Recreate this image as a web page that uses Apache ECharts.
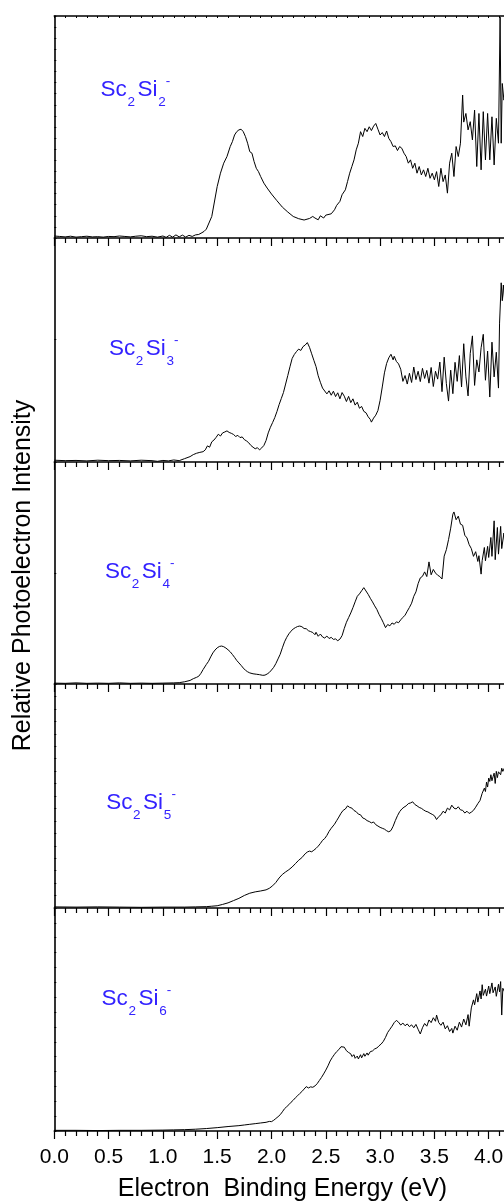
<!DOCTYPE html>
<html>
<head>
<meta charset="utf-8">
<title>Sc2Si(n)- photoelectron spectra</title>
<script src="https://cdn.jsdelivr.net/npm/echarts@6/dist/echarts.min.js"></script>
<style>
  html, body { margin: 0; padding: 0; background: #fff; }
  #chart { width: 504px; height: 1203px; }
</style>
</head>
<body>
<div id="chart"></div>
<script>
// spectra: [binding energy (eV), intensity as % of the panel height]
const spec2 = [[0,0.9],[0.05,0.7],[0.1,0.5],[0.15,0.8],[0.2,0.4],[0.25,0.6],[0.3,0.8],[0.35,0.5],[0.4,0.6],[0.45,0.4],[0.5,0.7],[0.55,0.6],[0.6,0.9],[0.65,0.7],[0.7,0.5],[0.75,0.8],[0.8,1.0],[0.85,0.6],[0.9,0.8],[0.95,0.4],[1.0,0.9],[1.03,0.3],[1.06,1.2],[1.09,0.4],[1.12,1.4],[1.15,0.5],[1.18,1.3],[1.21,0.4],[1.24,1.2],[1.27,0.7],[1.3,1.4],[1.33,1.6],[1.36,2.4],[1.38,3.0],
  [1.40,4.0],[1.45,9.7],[1.50,23.2],[1.53,29.2],[1.56,33.7],[1.59,36.7],[1.62,41.2],[1.64,43.4],[1.66,46.4],[1.68,47.9],[1.70,48.7],[1.72,49.0],[1.74,47.9],[1.76,45.7],[1.78,42.7],[1.80,38.9],[1.82,38.2],[1.84,34.4],[1.86,31.4],[1.88,29.9],[1.90,27.7],[1.93,24.7],[1.96,22.5],[2.00,19.8],[2.05,16.8],[2.10,13.9],[2.15,11.7],[2.20,9.7],[2.25,8.7],[2.30,8.1],[2.35,8.8],[2.38,9.7],[2.40,9.0],[2.43,8.2],[2.45,10.0],[2.48,9.0],[2.50,10.3],[2.55,10.9],[2.58,12.7],[2.60,14.7],[2.63,16.5],[2.65,19.5],[2.68,21.7],[2.70,25.4],[2.72,29.2],[2.74,32.2],[2.76,35.2],[2.78,39.7],[2.80,42.7],[2.82,47.9],[2.84,45.7],[2.86,49.4],[2.88,47.9],[2.90,50.1],[2.92,48.4],[2.94,50.4],[2.96,51.6],[2.98,49.0],[3.00,46.4],[3.02,47.5],[3.04,45.7],[3.06,48.2],[3.08,44.9],[3.10,43.4],[3.12,41.2],[3.14,41.5],[3.16,39.4],[3.18,41.2],[3.20,40.4],[3.22,38.2],[3.24,36.7],[3.26,33.7],[3.28,35.2],[3.30,31.4],[3.32,33.7],[3.34,29.2],[3.36,32.2],[3.38,28.4],[3.40,30.7],[3.42,27.7],[3.44,31.4],[3.46,26.9],[3.48,29.2],[3.50,26.2],[3.52,29.9],[3.54,23.2],[3.56,31.4],[3.58,25.4],[3.60,28.4],[3.62,20.2],[3.64,33.7],[3.66,38.2],[3.68,27.7],[3.70,41.2],[3.72,36.7],[3.74,42.7],[3.76,64.4],[3.77,52.2],[3.79,56.1],[3.81,48.7],[3.83,52.4],[3.85,44.2],[3.87,57.6],[3.89,32.2],[3.91,56.1],[3.93,30.7],[3.95,56.9],[3.97,35.2],[3.99,56.1],[4.01,35.2],[4.03,54.6],[4.05,32.9],[4.07,53.9],[4.09,42.7],[4.105,99.5],[4.115,42.7],[4.125,69.6],[4.14,62.1],[4.16,66.0]];

const spec3 = [[0,0.8],[0.1,0.6],[0.2,0.7],[0.3,0.5],[0.4,0.8],[0.5,0.6],[0.6,0.7],[0.7,0.5],[0.8,0.8],[0.9,0.6],[0.95,0.3],[1.0,0.7],[1.05,0.5],[1.1,0.9],[1.15,0.6],[1.2,1.5],[1.25,2.4],[1.28,3.3],[1.31,3.9],[1.34,4.3],[1.37,4.6],[1.39,5.4],[1.41,7.2],[1.43,6.6],[1.45,9.0],[1.47,9.8],[1.49,11.0],[1.51,12.4],[1.53,11.6],[1.55,13.0],[1.57,13.4],[1.59,13.9],[1.61,13.2],[1.63,12.8],[1.65,12.3],[1.67,11.4],[1.69,11.9],[1.71,10.9],[1.73,11.2],[1.75,10.0],[1.77,9.4],[1.79,8.6],[1.81,7.4],[1.83,6.6],[1.85,5.9],[1.87,6.4],[1.89,5.4],[1.91,6.3],[1.93,7.4],[1.95,9.6],[1.97,13.0],[1.99,15.5],[2.01,17.6],[2.03,19.8],[2.05,22.5],[2.07,25.6],[2.09,28.3],[2.11,31.0],[2.13,34.8],[2.15,38.6],[2.17,42.5],[2.19,46.2],[2.21,48.0],[2.23,49.3],[2.25,50.4],[2.27,49.8],[2.29,51.5],[2.31,52.2],[2.33,53.3],[2.35,51.2],[2.37,48.3],[2.39,45.4],[2.41,42.6],[2.43,38.5],[2.45,35.6],[2.47,33.0],[2.49,31.7],[2.51,30.4],[2.53,31.8],[2.55,29.8],[2.57,31.6],[2.59,29.2],[2.61,30.9],[2.63,28.2],[2.65,31.0],[2.67,29.4],[2.69,27.0],[2.71,29.3],[2.73,26.5],[2.75,28.2],[2.77,25.4],[2.79,26.7],[2.81,24.0],[2.83,24.8],[2.85,22.6],[2.87,22.0],[2.89,20.2],[2.91,19.0],[2.92,17.8],[2.94,19.6],[2.96,20.9],[2.98,23.0],[3.00,27.5],[3.02,33.5],[3.04,39.8],[3.06,44.0],[3.08,46.5],[3.10,48.1],[3.12,45.6],[3.13,47.2],[3.15,44.9],[3.17,43.8],[3.19,41.4],[3.21,36.0],[3.23,38.6],[3.25,34.8],[3.27,39.6],[3.29,35.5],[3.31,42.4],[3.33,36.8],[3.35,40.5],[3.37,35.9],[3.39,41.8],[3.41,37.3],[3.43,40.9],[3.45,35.2],[3.47,42.2],[3.49,33.7],[3.51,40.5],[3.53,37.0],[3.55,44.6],[3.57,31.4],[3.59,46.8],[3.61,35.0],[3.63,27.2],[3.65,41.0],[3.67,30.5],[3.69,44.5],[3.71,36.0],[3.73,47.5],[3.75,33.5],[3.77,52.8],[3.79,38.0],[3.81,29.5],[3.83,48.5],[3.85,56.3],[3.87,34.2],[3.89,45.6],[3.91,40.2],[3.93,51.0],[3.95,57.0],[3.97,36.5],[3.99,49.5],[4.01,29.0],[4.03,53.5],[4.05,38.0],[4.07,49.0],[4.09,33.0],[4.10,62.0],[4.115,80.0],[4.125,72.0],[4.135,79.0],[4.15,70.0]];

const spec4 = [[0,0.4],[0.1,0.3],[0.2,0.5],[0.3,0.3],[0.4,0.4],[0.5,0.3],[0.6,0.5],[0.7,0.3],[0.8,0.4],[0.9,0.3],[1.0,0.4],[1.1,0.5],[1.15,0.6],[1.2,1.0],[1.25,1.6],[1.28,2.4],[1.31,3.0],[1.33,3.5],[1.35,4.8],[1.37,6.5],[1.40,8.8],[1.42,10.2],[1.44,12.2],[1.46,14.0],[1.48,15.3],[1.50,16.3],[1.52,16.9],[1.54,17.1],[1.56,16.8],[1.58,16.2],[1.60,15.4],[1.62,14.5],[1.64,13.3],[1.66,12.0],[1.68,10.6],[1.70,9.5],[1.72,8.4],[1.74,7.2],[1.76,6.2],[1.78,5.5],[1.80,5.0],[1.83,4.6],[1.86,4.4],[1.89,4.2],[1.92,3.9],[1.94,4.0],[1.96,4.5],[1.98,5.2],[2.00,6.3],[2.02,7.5],[2.04,9.2],[2.06,11.3],[2.08,13.4],[2.10,16.3],[2.12,19.0],[2.14,21.0],[2.16,22.6],[2.18,23.8],[2.20,24.8],[2.22,25.4],[2.24,25.9],[2.26,26.1],[2.28,25.8],[2.30,25.0],[2.32,24.9],[2.34,24.0],[2.36,23.6],[2.38,23.2],[2.40,22.2],[2.41,23.3],[2.43,21.5],[2.45,22.5],[2.47,21.2],[2.49,20.7],[2.51,21.6],[2.53,20.5],[2.55,21.0],[2.57,20.1],[2.59,20.3],[2.61,19.5],[2.63,20.2],[2.65,21.8],[2.67,25.0],[2.69,27.8],[2.71,29.9],[2.73,32.0],[2.75,34.4],[2.77,37.0],[2.79,39.5],[2.81,40.6],[2.83,42.0],[2.85,43.4],[2.87,41.9],[2.89,40.4],[2.91,38.6],[2.93,37.0],[2.95,35.2],[2.97,33.6],[2.99,31.4],[3.01,29.6],[3.03,27.6],[3.05,25.4],[3.07,26.8],[3.09,26.2],[3.11,27.5],[3.13,26.9],[3.15,28.0],[3.17,27.6],[3.19,28.9],[3.21,30.0],[3.23,31.0],[3.25,32.8],[3.27,34.5],[3.29,36.4],[3.31,39.5],[3.33,41.5],[3.35,45.2],[3.37,47.8],[3.39,48.5],[3.41,50.5],[3.43,48.4],[3.45,55.0],[3.47,49.2],[3.49,51.6],[3.51,50.0],[3.53,49.0],[3.55,48.4],[3.57,47.3],[3.59,57.6],[3.61,60.5],[3.63,65.0],[3.65,70.2],[3.67,76.5],[3.68,77.5],[3.70,74.0],[3.72,75.6],[3.74,72.0],[3.76,71.5],[3.78,67.0],[3.80,65.8],[3.82,62.8],[3.84,61.0],[3.86,57.5],[3.88,59.6],[3.90,55.2],[3.91,57.8],[3.93,49.5],[3.94,55.6],[3.96,61.5],[3.97,55.5],[3.99,62.0],[4.00,57.0],[4.02,66.0],[4.03,57.5],[4.05,73.5],[4.06,56.0],[4.08,70.5],[4.09,58.5],[4.11,71.0],[4.12,61.0],[4.14,68.0],[4.15,62.0]];

const spec5 = [[0,0.5],[0.2,0.4],[0.4,0.5],[0.6,0.4],[0.8,0.3],[1.0,0.4],[1.2,0.4],[1.3,0.5],[1.4,0.6],[1.45,0.8],[1.5,1.0],[1.55,1.6],[1.6,2.3],[1.65,3.3],[1.7,4.3],[1.75,5.6],[1.8,6.6],[1.85,7.2],[1.9,7.6],[1.95,8.1],[1.98,8.8],[2.01,9.9],[2.04,11.4],[2.07,13.4],[2.10,15.0],[2.13,16.1],[2.16,17.1],[2.19,18.3],[2.22,19.8],[2.25,21.3],[2.28,22.5],[2.31,24.2],[2.33,25.0],[2.35,25.4],[2.37,25.1],[2.39,25.8],[2.41,26.6],[2.43,27.6],[2.45,28.8],[2.47,30.2],[2.49,31.0],[2.51,32.4],[2.53,34.2],[2.55,35.6],[2.56,34.8],[2.58,37.4],[2.60,39.0],[2.62,40.6],[2.64,42.3],[2.66,43.6],[2.68,44.2],[2.70,45.6],[2.72,44.9],[2.74,44.6],[2.76,43.5],[2.78,43.0],[2.80,41.9],[2.82,41.6],[2.84,40.2],[2.86,39.8],[2.88,39.0],[2.90,38.6],[2.92,38.0],[2.94,38.4],[2.96,37.2],[2.98,36.6],[3.00,36.0],[3.02,35.6],[3.04,35.2],[3.06,34.5],[3.08,34.0],[3.10,34.6],[3.12,36.5],[3.14,39.0],[3.16,41.2],[3.18,43.0],[3.20,44.2],[3.22,45.0],[3.24,45.6],[3.26,46.6],[3.28,46.9],[3.30,47.4],[3.32,46.2],[3.34,45.6],[3.36,44.9],[3.38,44.5],[3.40,43.8],[3.42,43.2],[3.44,42.9],[3.46,42.3],[3.48,41.8],[3.50,41.2],[3.52,39.5],[3.54,40.8],[3.56,41.6],[3.58,43.2],[3.60,42.4],[3.62,44.6],[3.64,43.8],[3.66,45.9],[3.68,44.6],[3.70,44.2],[3.72,45.2],[3.74,43.8],[3.76,43.6],[3.78,42.4],[3.80,43.2],[3.82,42.2],[3.84,42.8],[3.86,43.6],[3.88,45.0],[3.90,46.6],[3.92,48.0],[3.94,51.2],[3.96,53.5],[3.97,52.0],[3.98,56.2],[3.99,54.0],[4.00,58.0],[4.01,56.5],[4.02,59.5],[4.03,56.8],[4.04,58.6],[4.05,60.2],[4.06,55.6],[4.07,61.0],[4.08,58.2],[4.09,60.8],[4.10,61.6],[4.11,59.5],[4.12,62.4],[4.13,61.0],[4.15,63.0]];

const spec6 = [[0,0.3],[0.2,0.3],[0.4,0.2],[0.6,0.3],[0.8,0.3],[1.0,0.4],[1.1,0.5],[1.2,0.6],[1.3,0.8],[1.4,1.1],[1.5,1.5],[1.6,2.0],[1.7,2.4],[1.75,2.7],[1.8,3.0],[1.85,3.3],[1.9,3.6],[1.95,3.9],[1.98,4.3],[2.00,4.2],[2.02,4.8],[2.04,5.6],[2.06,6.4],[2.08,7.3],[2.10,8.6],[2.12,10.0],[2.14,10.9],[2.16,11.8],[2.18,12.9],[2.20,13.8],[2.22,14.9],[2.24,15.8],[2.26,16.8],[2.28,17.7],[2.30,18.8],[2.32,19.9],[2.34,19.3],[2.36,19.8],[2.38,19.6],[2.40,20.2],[2.42,21.2],[2.44,22.6],[2.46,24.0],[2.48,25.6],[2.50,27.3],[2.52,29.2],[2.54,31.4],[2.56,33.0],[2.58,34.4],[2.60,35.6],[2.62,36.5],[2.64,37.8],[2.65,37.0],[2.67,37.6],[2.69,36.0],[2.71,35.2],[2.73,34.6],[2.74,33.4],[2.76,34.2],[2.77,32.6],[2.79,33.6],[2.80,32.3],[2.82,34.2],[2.83,32.8],[2.85,34.7],[2.86,33.5],[2.88,35.0],[2.89,34.0],[2.91,35.6],[2.93,35.9],[2.95,36.8],[2.97,37.2],[2.99,38.2],[3.01,39.0],[3.03,40.2],[3.05,42.0],[3.07,44.2],[3.09,45.6],[3.11,47.0],[3.13,48.6],[3.15,49.6],[3.17,48.8],[3.19,47.5],[3.21,48.4],[3.23,47.2],[3.25,48.0],[3.27,46.8],[3.29,47.6],[3.31,46.3],[3.33,47.8],[3.35,45.6],[3.37,43.5],[3.39,46.3],[3.41,48.2],[3.43,47.0],[3.45,49.8],[3.47,48.6],[3.49,50.8],[3.51,49.2],[3.52,52.0],[3.54,48.6],[3.56,47.4],[3.58,48.8],[3.60,45.8],[3.62,47.2],[3.64,44.6],[3.66,46.0],[3.67,43.9],[3.69,47.0],[3.71,45.2],[3.73,48.8],[3.75,46.6],[3.77,50.2],[3.79,47.6],[3.81,52.2],[3.82,47.0],[3.84,55.2],[3.86,58.8],[3.87,56.6],[3.89,61.6],[3.90,57.8],[3.92,62.8],[3.93,59.2],[3.94,65.6],[3.95,60.8],[3.97,63.6],[3.98,60.5],[4.00,65.0],[4.01,61.6],[4.03,66.4],[4.04,62.0],[4.06,64.6],[4.07,60.4],[4.09,65.8],[4.10,62.4],[4.11,67.0],[4.12,52.0],[4.13,64.0],[4.15,62.0]];

const spectra = [spec2, spec3, spec4, spec5, spec6];
const siCounts = ['2', '3', '4', '5', '6'];
// left-axis tick step of each panel (in % of panel height)
const yTickStep = [5, 55, 50, 100 / 18, 100 / 15];

const xTitle = 'Electron  Binding Energy (eV)';
const yTitle = 'Relative Photoelectron Intensity';

// layout
const panelTop = [16, 238, 462, 684, 908];
const panelH = [222, 224, 222, 224, 223];
const plotLeft = 54.3;
const pxPerEv = 108.6;
const xMax = 4.5;
const labelX = [100.6, 108.9, 104.9, 106.2, 101.6];
const labelBase = [97.7, 356.7, 580, 810.7, 1006.7];

const FONT = '"Liberation Sans", Arial, sans-serif';
const BLUE = '#3322ff';

const chart = echarts.init(document.getElementById('chart'));

const grids = [], xAxes = [], yAxes = [], series = [];
for (let i = 0; i < 5; i++) {
  grids.push({
    left: plotLeft, top: panelTop[i], width: pxPerEv * xMax, height: panelH[i],
    containLabel: false, outerBoundsMode: 'none'
  });
  xAxes.push({
    type: 'value', gridIndex: i, min: 0, max: xMax, interval: 0.5,
    axisLine: { onZero: false, lineStyle: { color: '#000', width: 1.6 } },
    axisTick: { length: 8, lineStyle: { color: '#000', width: 1.2 } },
    minorTick: { show: true, splitNumber: 5, length: 5, lineStyle: { color: '#000', width: 1.2 } },
    splitLine: { show: false },
    axisLabel: {
      show: i === 4, margin: 16, color: '#000', fontSize: 21, fontFamily: FONT,
      showMaxLabel: false,
      formatter: v => v.toFixed(1)
    }
  });
  yAxes.push({
    type: 'value', gridIndex: i, min: 0, max: 100, interval: yTickStep[i],
    axisLine: { show: true, lineStyle: { color: '#000', width: 1.6 } },
    axisTick: { inside: true, length: 2, lineStyle: { color: '#000', width: 1 } },
    axisLabel: { show: false },
    splitLine: { show: false }
  });
  series.push({
    type: 'line', xAxisIndex: i, yAxisIndex: i, data: spectra[i],
    showSymbol: false, symbol: 'none', smooth: false,
    lineStyle: { color: '#000', width: 1 },
    clip: true, animation: false
  });
}
// top frame of the first panel
xAxes.push({
  type: 'value', gridIndex: 0, position: 'top', min: 0, max: xMax, interval: 0.5,
  axisLine: { onZero: false, lineStyle: { color: '#000', width: 1.6 } },
  axisTick: { inside: true, length: 2, lineStyle: { color: '#000', width: 1 } },
  minorTick: { show: true, splitNumber: 5, length: 2, lineStyle: { color: '#000', width: 1 } },
  splitLine: { show: false },
  axisLabel: { show: false }
});

// panel labels Sc2Sin-
const graphics = [];
for (let i = 0; i < 5; i++) {
  const x = labelX[i], b = labelBase[i];
  const big = { fill: BLUE, fontSize: 22.5, fontFamily: FONT, align: 'left', verticalAlign: 'middle' };
  const small = { fill: BLUE, fontSize: 13.5, fontFamily: FONT, align: 'left', verticalAlign: 'middle' };
  graphics.push(
    { type: 'text', x: x, y: b - 7.8, style: Object.assign({ text: 'Sc' }, big) },
    { type: 'text', x: x + 26.8, y: b + 4.5, style: Object.assign({ text: '2' }, small) },
    { type: 'text', x: x + 36.8, y: b - 7.8, style: Object.assign({ text: 'Si' }, big) },
    { type: 'text', x: x + 57.6, y: b + 4.5, style: Object.assign({ text: siCounts[i] }, small) },
    { type: 'text', x: x + 65.2, y: b - 16.4, style: Object.assign({ text: '-' }, small) }
  );
}
graphics.push(
  { type: 'text', x: 282.5, y: 1189, style: { text: xTitle, fill: '#000', fontSize: 25, fontFamily: FONT, align: 'center', verticalAlign: 'middle' } },
  { type: 'text', x: 23, y: 575.5, rotation: Math.PI / 2, style: { text: yTitle, fill: '#000', fontSize: 25, fontFamily: FONT, align: 'center', verticalAlign: 'middle' } }
);

chart.setOption({
  animation: false,
  backgroundColor: '#fff',
  grid: grids,
  xAxis: xAxes,
  yAxis: yAxes,
  series: series,
  graphic: graphics
});
</script>
</body>
</html>
